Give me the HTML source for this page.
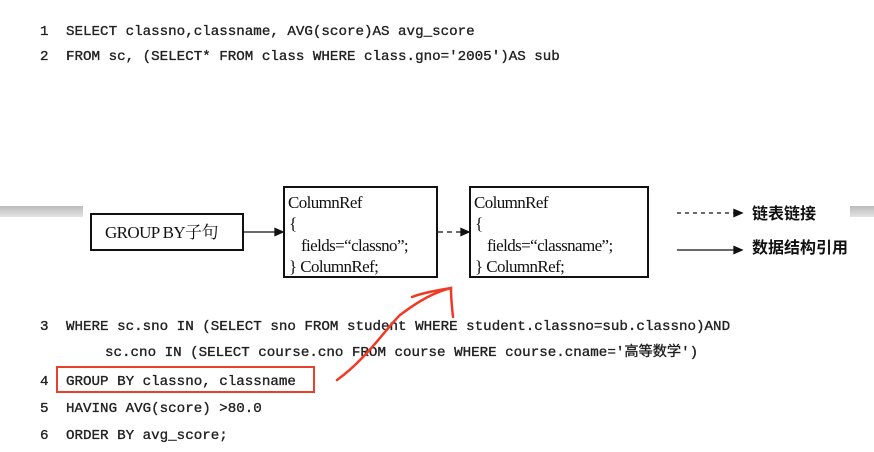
<!DOCTYPE html>
<html><head><meta charset="utf-8"><style>
html,body{margin:0;padding:0;background:#fff;}
svg{display:block}
.c{font-family:"Liberation Mono","Noto Sans CJK SC",monospace;font-size:14.2px;fill:#222;stroke:#222;stroke-width:0.35;}
.s{font-family:"Liberation Serif","Noto Serif CJK SC",serif;font-size:17px;fill:#111;letter-spacing:-0.6px;}
.z{font-family:"Liberation Sans","Noto Sans CJK SC",sans-serif;font-size:16px;font-weight:bold;fill:#111;}
</style></head><body>
<svg width="874" height="452" viewBox="0 0 874 452" xmlns="http://www.w3.org/2000/svg">
<defs><linearGradient id="g" x1="0" y1="0" x2="0" y2="1"><stop offset="0" stop-color="#bbb"/><stop offset="1" stop-color="#e4e4e4"/></linearGradient></defs>
<rect x="0" y="206" width="83" height="11" fill="url(#g)"/>
<rect x="850" y="206" width="24" height="11" fill="url(#g)"/>
<g class="c">
<text x="40" y="35">1</text><text x="66" y="35">SELECT classno,classname, AVG(score)AS avg_score</text>
<text x="40" y="60">2</text><text x="66" y="60">FROM sc, (SELECT*  FROM class WHERE class.gno='2005')AS sub</text>
<text x="40" y="330">3</text><text x="66" y="330">WHERE sc.sno IN (SELECT sno FROM student WHERE student.classno=sub.classno)AND</text>
<text x="105" y="356">sc.cno IN (SELECT course.cno FROM course WHERE course.cname='高等数学')</text>
<text x="40" y="385">4</text><text x="66" y="385">GROUP BY classno, classname</text>
<text x="40" y="412">5</text><text x="66" y="412">HAVING AVG(score) &gt;80.0</text>
<text x="40" y="439">6</text><text x="66" y="439">ORDER BY avg_score;</text>
</g>
<g fill="none" stroke="#111" stroke-width="2">
<rect x="91" y="214" width="152" height="36"/>
<rect x="284" y="187" width="153" height="90"/>
<rect x="470" y="187" width="178" height="90"/>
</g>
<text class="s" x="105" y="238">GROUP BY子句</text>
<g class="s">
<text x="288" y="208">ColumnRef</text><text x="289" y="229">{</text>
<text x="301" y="251">fields=“classno”;</text><text x="289" y="272">} ColumnRef;</text>
<text x="474" y="208">ColumnRef</text><text x="475" y="229">{</text>
<text x="487" y="251">fields=“classname”;</text><text x="475" y="272">} ColumnRef;</text>
</g>
<g stroke="#111" stroke-width="1.3" fill="#111">
<line x1="244" y1="232" x2="277" y2="232"/><polygon points="283,232 275,228.5 275,235.5"/>
<line x1="438" y1="232" x2="463" y2="232" stroke-dasharray="5,4"/><polygon points="469,232 461,228.5 461,235.5"/>
<line x1="677" y1="213" x2="736" y2="213" stroke-dasharray="4,4"/><polygon points="742,213 734,209.5 734,216.5"/>
<line x1="677" y1="250" x2="736" y2="250"/><polygon points="742,250 734,246.5 734,253.5"/>
</g>
<text class="z" x="752" y="219">链表链接</text>
<text class="z" x="752" y="253">数据结构引用</text>
<rect x="57" y="367" width="257" height="25" fill="none" stroke="#e8402a" stroke-width="2"/>
<g fill="none" stroke="#f03a24" stroke-width="2.5" stroke-linecap="round">
<path d="M337,380 C365,360 385,330 400,315 C420,300 435,292 451,288"/>
<path d="M412,297 C425,292 440,290 451,288 C451,298 452,308 453,317"/>
</g>
</svg>
</body></html>
